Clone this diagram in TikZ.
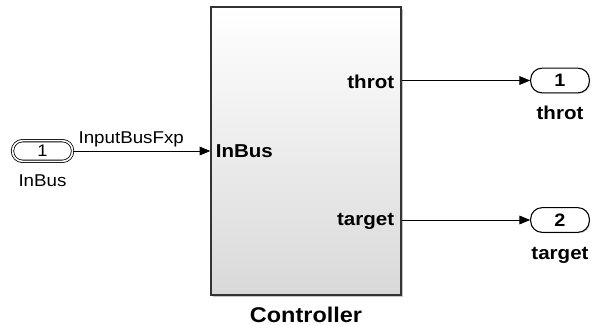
\documentclass[tikz,border=0pt]{standalone}
\usepackage{fontspec}
\setmainfont{Liberation Sans}[FakeStretch=1.1]
\usetikzlibrary{positioning,arrows.meta,shadows}

\begin{document}
\begin{tikzpicture}[
  x=0.75pt, y=-0.75pt,
  blk/.style={draw=black!80, line width=1.1pt, minimum width=142.5pt,
              minimum height=216pt, inner sep=0pt,
              top color=white, bottom color=black!15,
              drop shadow={shadow xshift=1.6pt, shadow yshift=-1.6pt,
                           fill=black!45, opacity=0.5}},
  inp/.style={draw, double, double distance=1.2pt, line width=0.6pt,
              rounded corners=7.5pt, fill=white, minimum width=45pt,
              minimum height=15.5pt, inner sep=0pt,
              font=\fontsize{12.5}{14}\selectfont},
  outp/.style={draw, line width=0.8pt, rounded corners=8.5pt, fill=white,
               minimum width=44pt, minimum height=18.5pt, inner sep=0pt,
               font=\fontsize{13.5}{15}\selectfont\bfseries,
               drop shadow={shadow xshift=0.8pt, shadow yshift=-0.8pt,
                            fill=black!30, opacity=0.4}},
  arr/.style={-{Triangle[length=8pt, width=6.5pt]}, line width=0.6pt},
  plbl/.style={font=\fontsize{14}{16}\selectfont\bfseries, inner sep=0pt},
  lbl/.style={font=\fontsize{12.8}{14}\selectfont, inner sep=0pt}
]
\useasboundingbox (0,0) rectangle (593,325);

\node[blk] (ctrl) at (306,151) {};
\node[inp, left=103pt of ctrl.west] (inBus) {1};
\node[outp] (outThrot) at (560,80.5) {1};
\node[outp] (outTarget) at (560,220) {2};

% port labels inside the block
\node[plbl, anchor=west] (pIn) at ([xshift=4pt]ctrl.west) {InBus};
\node[plbl, anchor=east] (pThrot) at ([xshift=-5.5pt,yshift=-1pt]ctrl.east |- outThrot) {throt};
\node[plbl, anchor=east] (pTarget) at ([xshift=-5.5pt,yshift=-1pt]ctrl.east |- outTarget) {target};

\draw[arr] (inBus) -- (ctrl);
\draw[arr] (ctrl.east |- outThrot) -- (outThrot);
\draw[arr] (ctrl.east |- outTarget) -- (outTarget);

\node[lbl, above right=3pt and 4pt of inBus.east] (sig) {InputBusFxp};
\node[lbl, below=9.5pt of inBus] (nIn) {InBus};
\node[plbl, below=9.5pt of outThrot] (nThrot) {throt};
\node[plbl, below=10.5pt of outTarget] (nTarget) {target};
\node[plbl, font=\fontsize{16}{18}\selectfont\bfseries, below=8pt of ctrl] (nCtrl) {Controller};
\end{tikzpicture}
\end{document}
